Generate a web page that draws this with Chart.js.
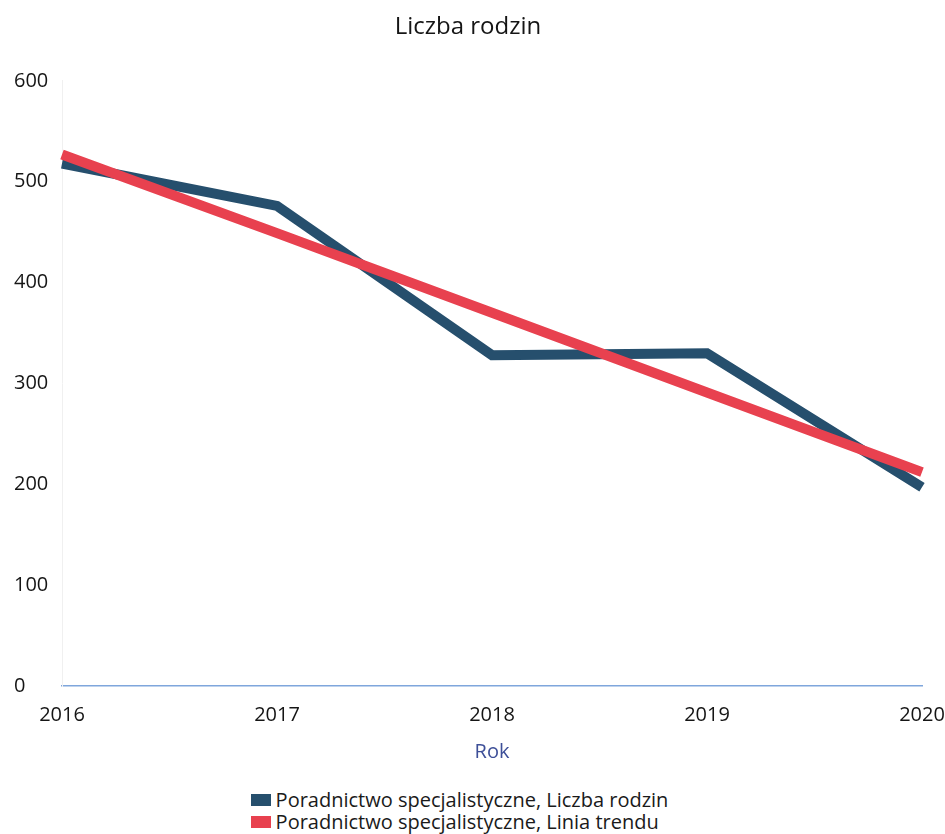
<!DOCTYPE html>
<html>
<head>
<meta charset="utf-8">
<script src="https://cdn.jsdelivr.net/npm/chart.js@4/dist/chart.umd.min.js"></script>
<style>
  html, body { margin: 0; padding: 0; background: #ffffff; }
  #wrap { position: relative; width: 945px; height: 834px; overflow: hidden; }
  #c { display: block; }
  #legend { position: absolute; left: 0; top: 789px; width: 945px; display: flex; justify-content: center; }
  #legend ul { list-style: none; margin: 0 0 0 -26px; padding: 0; font-family: "Open Sans", sans-serif; font-size: 20px; line-height: 22px; color: #1a1a1a; }
  #legend li { display: flex; align-items: center; white-space: nowrap; }
  #legend .box { display: inline-block; width: 20px; height: 12px; margin-right: 5px; }
</style>
</head>
<body>
<div id="wrap">
  <canvas id="c" width="945" height="775"></canvas>
  <div id="legend"></div>
</div>
<script>
const chartTitle = 'Liczba rodzin';
const axisTitle = 'Rok';
const years = ['2016', '2017', '2018', '2019', '2020'];
const seriesNames = ['Poradnictwo specjalistyczne, Liczba rodzin', 'Poradnictwo specjalistyczne, Linia trendu'];
const liczbaRodzin = [518, 476, 328, 330, 197];
const liniaTrendu = [527, 449, 370, 291, 212];
const seriesColors = ['#264f6d', '#e8414f'];
const yMin = 0, yMax = 600, yStep = 100;

const htmlLegend = {
  id: 'htmlLegend',
  afterUpdate(chart) {
    const host = document.getElementById('legend');
    host.innerHTML = '';
    const ul = document.createElement('ul');
    chart.data.datasets.forEach(ds => {
      const li = document.createElement('li');
      const box = document.createElement('span');
      box.className = 'box';
      box.style.background = ds.borderColor;
      li.appendChild(box);
      li.appendChild(document.createTextNode(ds.label));
      ul.appendChild(li);
    });
    host.appendChild(ul);
  }
};

new Chart(document.getElementById('c'), {
  type: 'line',
  data: {
    labels: years,
    datasets: [
      { label: seriesNames[0], data: liczbaRodzin, borderColor: seriesColors[0], backgroundColor: seriesColors[0], order: 1 },
      { label: seriesNames[1], data: liniaTrendu, borderColor: seriesColors[1], backgroundColor: seriesColors[1], order: 0 }
    ]
  },
  options: {
    responsive: false,
    animation: false,
    devicePixelRatio: 1,
    layout: { padding: { left: 14, right: 23, top: 0, bottom: 7 } },
    elements: {
      line: { borderWidth: 10, tension: 0, fill: false, borderCapStyle: 'butt', borderJoinStyle: 'miter' },
      point: { radius: 0, hoverRadius: 0 }
    },
    plugins: {
      legend: { display: false },
      tooltip: { enabled: false },
      title: {
        display: true,
        text: chartTitle,
        color: '#151515',
        font: { family: 'Open Sans', size: 24, weight: 'normal' },
        padding: { top: 13, bottom: 39 }
      }
    },
    scales: {
      x: {
        offset: false,
        grid: { display: false, drawTicks: false },
        border: { display: true, color: '#7fa6dc', width: 1.5 },
        ticks: { color: '#151515', font: { family: 'Open Sans', size: 20 }, padding: 17, maxRotation: 0, autoSkip: false },
        title: { display: true, text: axisTitle, color: '#3d4f98', font: { family: 'Open Sans', size: 20 }, padding: { top: -4, bottom: 4 } },
        afterFit(scale) { scale.paddingLeft = 0; scale.paddingRight = 0; }
      },
      y: {
        min: yMin, max: yMax,
        grid: { display: false, drawTicks: false },
        border: { display: true, color: '#f0f0f0', width: 1 },
        ticks: { stepSize: yStep, color: '#151515', font: { family: 'Open Sans', size: 20 }, padding: 2, crossAlign: 'far' },
        afterFit(scale) { scale.width = 48; }
      }
    }
  },
  plugins: [htmlLegend]
});
</script>
</body>
</html>
